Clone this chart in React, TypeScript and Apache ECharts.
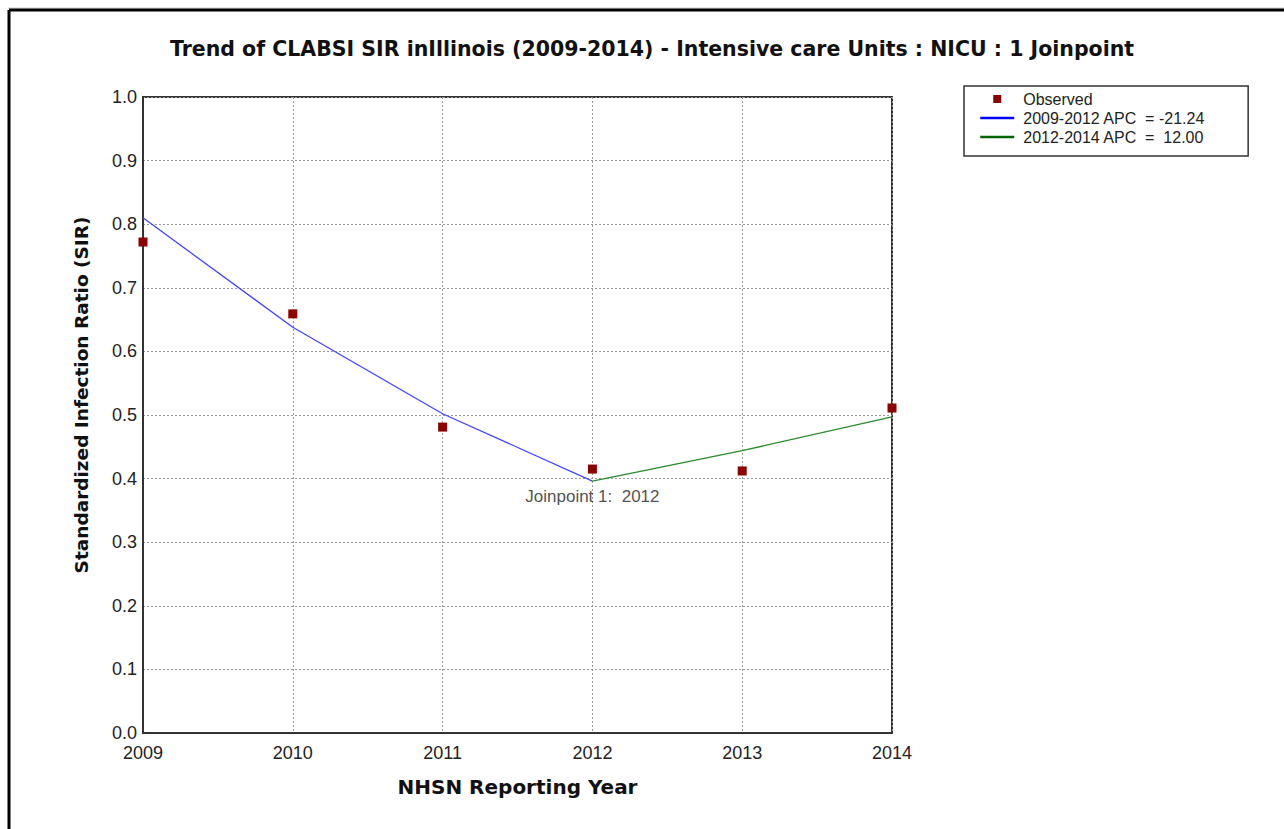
import React, { useEffect, useRef } from "react";
import * as echarts from "echarts";

const years = [2009, 2010, 2011, 2012, 2013, 2014];
const observed = [0.772, 0.659, 0.481, 0.415, 0.412, 0.511];
const seg1Years = [2009, 2010, 2011, 2012];
const seg1Fit = [0.81, 0.638, 0.502, 0.396];
const seg2Years = [2012, 2013, 2014];
const seg2Fit = [0.396, 0.444, 0.497];
const joinpointYear = 2012;
const joinpointValue = 0.396;

const titleText =
  "Trend of CLABSI SIR inIllinois (2009-2014) - Intensive care Units : NICU : 1 Joinpoint";
const seriesNames = ["Observed", "2009-2012 APC  = -21.24", "2012-2014 APC  =  12.00"];

export default function App() {
  const ref = useRef<HTMLDivElement>(null);
  useEffect(() => {
    if (!ref.current) return;
    const chart = echarts.init(ref.current, null, { renderer: "svg" });
    const labelFont = "'Liberation Sans', Arial, sans-serif";
    const boldFont = "'DejaVu Sans', Verdana, sans-serif";
    chart.setOption({
      animation: false,
      backgroundColor: "#fff",
      title: {
        text: titleText,
        left: 647,
        textAlign: "center",
        top: 33,
        textStyle: { fontFamily: boldFont, fontWeight: "bold", fontSize: 20.5, color: "#111" },
      },
      grid: {
        left: 143,
        top: 97,
        width: 749,
        height: 636,
        show: true,
        borderColor: "#333",
        borderWidth: 2,
        backgroundColor: "transparent",
      },
      legend: {
        left: 964,
        top: 86,
        orient: "vertical",
        itemWidth: 34,
        itemHeight: 10,
        itemGap: 3,
        padding: [5, 43, 11, 15],
        borderColor: "#333",
        borderWidth: 1.5,
        data: [
          { name: seriesNames[0] },
          {
            name: seriesNames[1],
            itemStyle: { opacity: 0 },
            lineStyle: { color: "#0000ff", width: 2.5 },
          },
          {
            name: seriesNames[2],
            itemStyle: { opacity: 0 },
            lineStyle: { color: "#006400", width: 2.5 },
          },
        ],
        textStyle: {
          fontFamily: labelFont,
          fontSize: 16,
          lineHeight: 15,
          color: "#222",
          padding: [0, 0, 0, 4],
        },
      },
      xAxis: {
        type: "value",
        min: 2009,
        max: 2014,
        interval: 1,
        name: "NHSN Reporting Year",
        nameLocation: "middle",
        nameGap: 44,
        nameTextStyle: { fontFamily: boldFont, fontWeight: "bold", fontSize: 20, color: "#111" },
        axisLine: { show: true, lineStyle: { color: "#333", width: 2 } },
        axisTick: { show: false },
        axisLabel: {
          fontFamily: labelFont,
          fontSize: 18,
          color: "#222",
          margin: 11,
          formatter: (v: number) => String(v),
        },
        splitLine: { show: true, lineStyle: { color: "#999", type: [2, 2], width: 1 } },
      },
      yAxis: {
        type: "value",
        min: 0,
        max: 1,
        interval: 0.1,
        name: "Standardized Infection Ratio (SIR)",
        nameLocation: "middle",
        nameGap: 52,
        nameTextStyle: {
          fontFamily: boldFont,
          fontWeight: "bold",
          fontSize: 18.5,
          color: "#111",
          padding: [0, 0, 0, 40],
        },
        axisLine: { show: true, lineStyle: { color: "#333", width: 2 } },
        axisTick: { show: false },
        axisLabel: {
          fontFamily: labelFont,
          fontSize: 18,
          color: "#222",
          margin: 6,
          formatter: (v: number) => v.toFixed(1),
        },
        splitLine: { show: true, lineStyle: { color: "#999", type: [2, 2], width: 1 } },
      },
      series: [
        {
          name: seriesNames[1],
          type: "line",
          data: seg1Years.map((y, i) => [y, seg1Fit[i]]),
          symbol: "none",
          lineStyle: { color: "#4444ff", width: 1.3 },
          itemStyle: { color: "#0000ff" },
          z: 2,
        },
        {
          name: seriesNames[2],
          type: "line",
          data: seg2Years.map((y, i) => [y, seg2Fit[i]]),
          symbol: "none",
          lineStyle: { color: "#2a8a2a", width: 1.3 },
          itemStyle: { color: "#006400" },
          z: 2,
        },
        {
          name: seriesNames[0],
          type: "line",
          data: years.map((y, i) => [y, observed[i]]),
          symbol: "rect",
          symbolSize: 9,
          showSymbol: true,
          lineStyle: { width: 0, opacity: 0 },
          itemStyle: { color: "#8b0000" },
          z: 3,
        },
        {
          name: "joinpoint",
          type: "scatter",
          data: [[joinpointYear, joinpointValue]],
          symbolSize: 0,
          silent: true,
          label: {
            show: true,
            position: "bottom",
            distance: 7,
            formatter: "Joinpoint 1:  " + joinpointYear,
            fontFamily: labelFont,
            fontSize: 17,
            color: "#222",
          },
        },
      ],
      graphic: [
        { type: "line", shape: { x1: 8, y1: 8, x2: 1284, y2: 8 }, style: { stroke: "#ccc", lineWidth: 1 } },
        { type: "line", shape: { x1: 9, y1: 10, x2: 1284, y2: 10 }, style: { stroke: "#000", lineWidth: 3 } },
        { type: "line", shape: { x1: 9, y1: 10, x2: 9, y2: 829 }, style: { stroke: "#000", lineWidth: 3 } },
      ],
    });
    return () => chart.dispose();
  }, []);
  return (
    <div
      ref={ref}
      style={{ position: "absolute", left: 0, top: 0, width: 1284, height: 829 }}
    />
  );
}
